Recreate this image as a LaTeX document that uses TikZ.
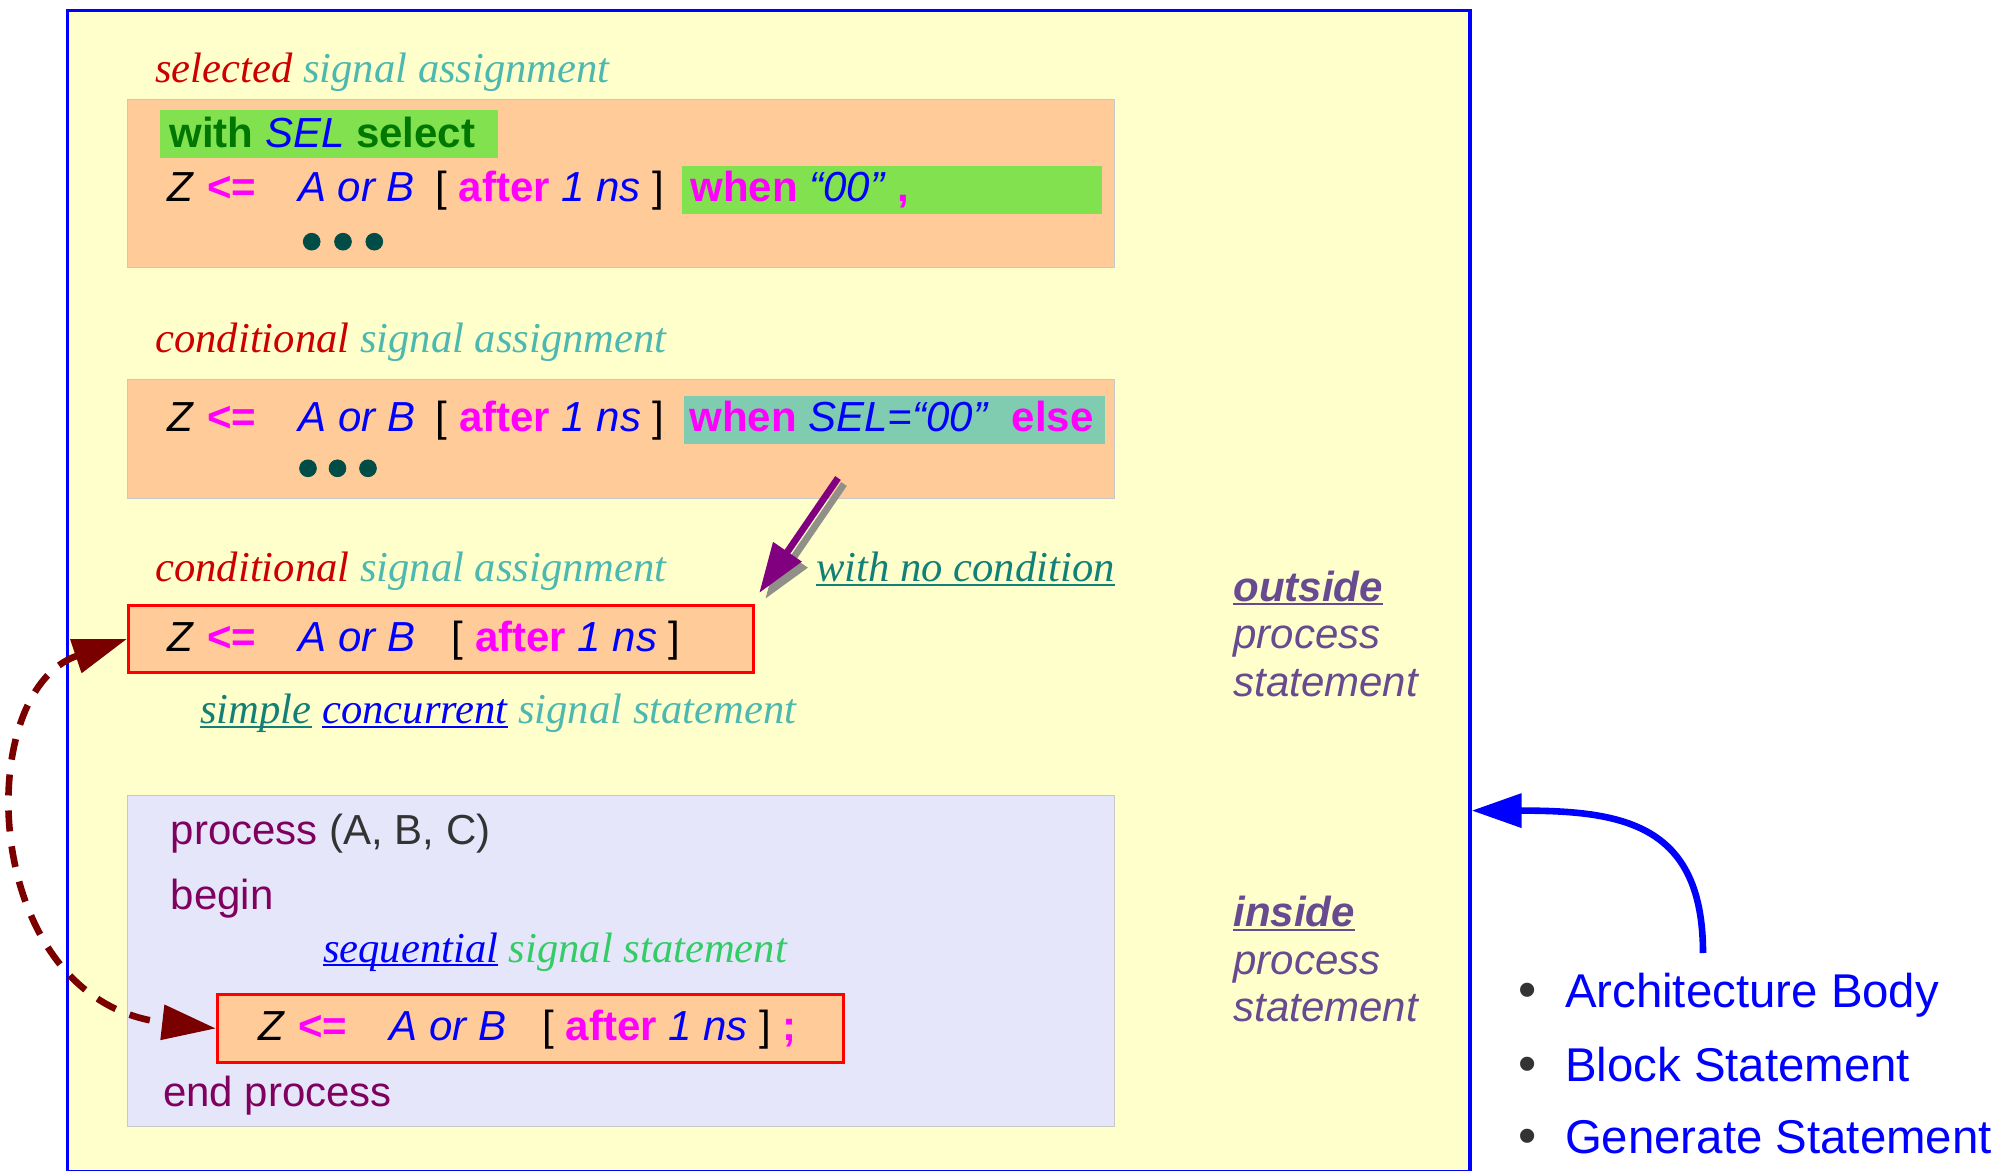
\documentclass[tikz,border=0pt]{standalone}
\usepackage{fontspec}
\setmainfont{Liberation Sans}
\newfontfamily\libserif{Liberation Serif}
\usetikzlibrary{arrows.meta}

\definecolor{paper}{HTML}{FFFFCC}
\definecolor{peach}{HTML}{FFCC99}
\definecolor{lavend}{HTML}{E6E6FA}
\definecolor{panelgray}{HTML}{C8C8C8}
\definecolor{selgreen}{HTML}{82E14E}
\definecolor{condteal}{HTML}{80CCB0}
\definecolor{kwgreen}{HTML}{007700}
\definecolor{kwmag}{HTML}{FF00FF}
\definecolor{sigblue}{HTML}{0000FF}
\definecolor{boxred}{HTML}{FF0000}
\definecolor{titred}{HTML}{CC0000}
\definecolor{lteal}{HTML}{4DB8B0}
\definecolor{dteal}{HTML}{138078}
\definecolor{procpurple}{HTML}{800060}
\definecolor{parengray}{HTML}{333333}
\definecolor{sidepurple}{HTML}{674A90}
\definecolor{dotteal}{HTML}{004D47}
\definecolor{seqgreen}{HTML}{33CC66}
\definecolor{darkred}{HTML}{7A0000}
\definecolor{arrowpurple}{HTML}{800080}
\definecolor{shadowgray}{HTML}{909088}
\definecolor{bulgray}{HTML}{333333}

\newsavebox{\ulbox}
\newcommand{\undl}[1]{\sbox{\ulbox}{#1}\rlap{\rule[-2.2pt]{\wd\ulbox}{1pt}}\usebox{\ulbox}}
\newcommand{\kw}[1]{\textcolor{kwmag}{\textbf{#1}}}
\newcommand{\sig}[1]{\textcolor{sigblue}{\textit{#1}}}
\newcommand{\zassign}[1]{\makebox[20pt][l]{\textit{Z}}\makebox[45.5pt][l]{\kw{<=}}\makebox[#1][l]{\sig{A or B}}[ \kw{after} \sig{1 ns} ]}
\newcommand{\bulmark}{\makebox[23.3pt][l]{\textcolor{bulgray}{\fontsize{26}{26}\selectfont •}}}

\tikzset{
	txt/.style={anchor=base west, inner sep=0pt, font=\fontsize{21}{25}\selectfont},
	ttl/.style={anchor=base west, inner sep=0pt, font=\libserif\itshape\fontsize{21.3}{25}\selectfont},
	side/.style={anchor=base west, inner sep=0pt, text=sidepurple, font=\itshape\fontsize{21}{25}\selectfont},
	bul/.style={anchor=base west, inner sep=0pt, text=sigblue, font=\fontsize{23.7}{27}\selectfont},
	panel/.style={anchor=north west, inner sep=0pt, draw=panelgray, line width=0.6pt, fill=#1},
	redbox/.style={anchor=north west, inner sep=0pt, draw=boxred, line width=1.6pt, fill=peach},
	hl/.style={anchor=north west, inner sep=0pt, fill=#1},
	bigtip/.tip={Triangle[length=25pt,width=16.5pt]},
	dashtip/.tip={Triangle[length=27pt,width=17pt]}
}

\begin{document}
\begin{tikzpicture}[x=0.5pt,y=-0.5pt]
		\useasboundingbox (0,0) rectangle (2014,1171);

		\node[draw=sigblue, fill=paper, line width=1.6pt, anchor=north west, inner sep=0pt, minimum width=701.2pt, minimum height=580.5pt] (arch) at (66,9) {};

		\node[panel=peach, minimum width=493.5pt, minimum height=84pt] (box1) at (127,99) {};
		\node[panel=peach, minimum width=493.5pt, minimum height=59.35pt] (box2) at (127,379) {};
		\node[redbox, minimum width=312.5pt, minimum height=33.35pt] (box3) at (127,604) {};
		\node[panel=lavend, minimum width=493.5pt, minimum height=165.5pt] (box4) at (127,795) {};
		\node[redbox, minimum width=313pt, minimum height=33.85pt] (box5) at (216,993) {};

		\node[hl=selgreen, minimum width=169pt, minimum height=24pt] (selhl) at (160,110) {};
		\node[hl=selgreen, minimum width=210pt, minimum height=24pt] (whenhl) at (682,166) {};
		\node[hl=condteal, minimum width=210.5pt, minimum height=24pt] (condhl) at (684,396) {};

		\node[ttl] (ttl1) at (155,83) {\textcolor{titred}{selected} \textcolor{lteal}{signal assignment}};
		\node[txt, text=kwgreen] (with) at (169,148) {\textbf{with} \sig{SEL} \textbf{select}};
		\node[txt] (line1) at (166.7,201.7) {\zassign{68.7pt}};
		\node[txt] (when1) at (690,201.7) {\kw{when} \sig{“00”} \kw{,}};
		\filldraw [dotteal] (311.7,241.7) circle (4.2pt);
		\filldraw [dotteal] (343,241.7) circle (4.2pt);
		\filldraw [dotteal] (374.3,241.7) circle (4.2pt);

		\node[ttl] (ttl2) at (155,353) {\textcolor{titred}{conditional} \textcolor{lteal}{signal assignment}};
		\node[txt] (line2) at (167,431.7) {\zassign{68.7pt}};
		\node[txt] (when2) at (689,431.7) {\kw{when} \sig{SEL=“00”}\ \ \kw{else}};
		\filldraw [dotteal] (308,468.3) circle (4.2pt);
		\filldraw [dotteal] (337.5,468.3) circle (4.2pt);
		\filldraw [dotteal] (368,468.3) circle (4.2pt);

		\node[ttl] (ttl3) at (155,581.7) {\textcolor{titred}{conditional} \textcolor{lteal}{signal assignment}};
		\node[ttl] (nocond) at (816,581.7) {\textcolor{dteal}{\undl{with no condition}}};
		\node[txt] (line3) at (167,651.7) {\zassign{76.7pt}};
		\node[ttl] (simple) at (200,723.8) {\textcolor{dteal}{\undl{simple}} \textcolor{sigblue}{\undl{concurrent}} \textcolor{lteal}{signal statement}};

		\node[txt, text=procpurple] (proc) at (170.5,844) {process \textcolor{parengray}{(A, B, C)}};
		\node[txt, text=procpurple] (begin) at (170.5,909.5) {begin};
		\node[ttl] (seq) at (322.7,962) {\textcolor{sigblue}{\undl{sequential}} \textcolor{seqgreen}{signal statement}};
		\node[txt] (line5) at (258,1040.6) {\zassign{76.5pt} \kw{;}};
		\node[txt, text=procpurple] (endp) at (162.7,1106) {end process};

		\node[side] (out1) at (1233,601) {\textbf{\undl{outside}}};
		\node[side] (out2) at (1233,648.5) {process};
		\node[side] (out3) at (1233,696) {statement};
		\node[side] (in1) at (1233,926.8) {\textbf{\undl{inside}}};
		\node[side] (in2) at (1233,974) {process};
		\node[side] (in3) at (1233,1021) {statement};

		\node[bul] (archbody) at (1518,1007.7) {\bulmark Architecture Body};
		\node[bul] (block) at (1518,1081) {\bulmark Block Statement};
		\node[bul] (gen) at (1518,1153) {\bulmark Generate Statement};

		\coordinate (nc) at (838,478);
		\coordinate (nctip) at ([shift={(4,-11)}]box3.north east);
		\draw[shadowgray, line width=3.4pt, -bigtip] ([shift={(6,6)}]nc) -- ([shift={(6,6)}]nctip);
		\draw[arrowpurple, line width=3.4pt, -bigtip] (nc) -- (nctip);

		\coordinate (src) at (1703,953);
		\draw[sigblue, line width=3.3pt, -bigtip] (src) .. controls +(0,-130) and +(150,0) .. ([yshift=181.3pt]arch.south east);

		\draw[darkred, line width=3.3pt, dash pattern=on 10.5pt off 7.5pt, dashtip-dashtip] (box3.west) .. controls +(-157,53) and +(-236,-27) .. (box5.west);
\end{tikzpicture}
\end{document}
